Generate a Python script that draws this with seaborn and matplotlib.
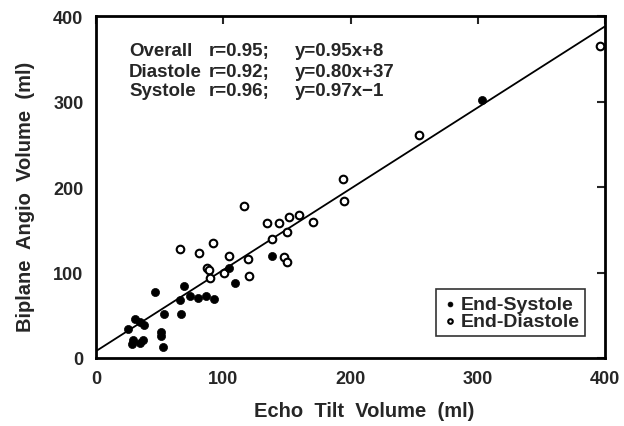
import numpy as np
import pandas as pd
import matplotlib
matplotlib.use("Agg")
import matplotlib.pyplot as plt
import seaborn as sns

# End-systole points (echo tilt, biplane angio), ml
sys_echo = [46.6, 69.5, 66.4, 73.9, 79.9, 86.7, 92.7, 104.8, 109.5, 138.3,
            53.2, 66.8, 24.9, 30.6, 34.6, 37.5, 28.1, 28.8, 34.6, 37.2,
            50.8, 51.3, 52.7, 303.1]
sys_angio = [77.5, 84.2, 68.2, 72.9, 70.2, 72.9, 69.4, 105.6, 87.7, 118.9,
             51.5, 51.5, 33.6, 45.6, 42.5, 38.6, 16.4, 21.4, 17.5, 21.4,
             30.8, 26.1, 12.5, 301.8]

# End-diastole points
dia_echo = [65.8, 80.9, 91.7, 116.3, 134.1, 144.0, 151.9, 159.8, 170.8, 138.3,
            150.1, 148.0, 150.1, 119.4, 120.5, 104.5, 100.4, 87.5, 88.5, 89.4,
            194.1, 194.9, 253.8, 396.0]
dia_angio = [127.5, 122.8, 134.9, 178.1, 157.5, 157.5, 165.3, 167.3, 158.7, 138.8,
             147.0, 118.1, 112.6, 116.1, 95.9, 119.3, 99.8, 105.5, 103.0, 93.2,
             209.4, 183.6, 260.8, 365.3]

# overall regression y = 0.95x + 8
slope = 0.95
intercept = 8
line_x = [0, 400]

stats_names = ["Overall", "Diastole", "Systole"]
stats_r = ["r=0.95;", "r=0.92;", "r=0.96;"]
stats_eq = ["y=0.95x+8", "y=0.80x+37", "y=0.97x\u22121"]

ticks = [0, 100, 200, 300, 400]

sns.set_style("white")
plt.rcParams['font.family'] = ['Liberation Sans', 'DejaVu Sans']
plt.rcParams['font.weight'] = 'bold'

fig = plt.figure(figsize=(6.24, 4.27), dpi=100)
ax = fig.add_axes([0.1538, 0.1593, 0.8158, 0.8007])

sys_df = pd.DataFrame({"echo": sys_echo, "angio": sys_angio})
dia_df = pd.DataFrame({"echo": dia_echo, "angio": dia_angio})

line_y = [slope * v + intercept for v in line_x]
ax.plot(line_x, line_y, color="black", lw=1.3, zorder=1)

sns.scatterplot(data=dia_df, x="echo", y="angio", ax=ax, marker="o", s=30,
                facecolor="white", edgecolor="black", linewidth=1.5,
                label="End-Diastole", zorder=3)
sns.scatterplot(data=sys_df, x="echo", y="angio", ax=ax, marker="o", s=34,
                color="black", edgecolor="black", linewidth=0.5,
                label="End-Systole", zorder=3)

ax.set_xlim(0, 400)
ax.set_ylim(0, 400)
ax.set_xticks(ticks)
ax.set_yticks(ticks)
ax.tick_params(direction="in", length=6, width=1.5, top=True, right=True,
               labelsize=13, pad=9)
for lab in ax.get_xticklabels() + ax.get_yticklabels():
    lab.set_fontweight("bold")
for sp in ax.spines.values():
    sp.set_linewidth(2.0)
    sp.set_color("black")

ax.set_xlabel("Echo  Tilt  Volume  (ml)", fontsize=14.5, fontweight="bold", va="center")
ax.set_ylabel("Biplane  Angio  Volume  (ml)", fontsize=14.5, fontweight="bold", va="center")
ax.xaxis.set_label_coords(0.527, -0.155)
ax.yaxis.set_label_coords(-0.139, 0.475)

rows_y = [0.898, 0.839, 0.781]
for i in range(3):
    ax.text(0.065, rows_y[i], stats_names[i], transform=ax.transAxes, fontsize=13.5,
            fontweight="bold", va="center")
    ax.text(0.222, rows_y[i], stats_r[i], transform=ax.transAxes, fontsize=13.5,
            fontweight="bold", va="center")
    ax.text(0.391, rows_y[i], stats_eq[i], transform=ax.transAxes, fontsize=13.5,
            fontweight="bold", va="center")

handles, labels = ax.get_legend_handles_labels()
order = [labels.index("End-Systole"), labels.index("End-Diastole")]
leg = ax.legend([handles[k] for k in order], [labels[k] for k in order],
                loc="lower right", bbox_to_anchor=(0.961, 0.064),
                frameon=True, fancybox=False, edgecolor="black",
                fontsize=14, handletextpad=0.15, handlelength=0.8,
                borderpad=0.3, labelspacing=0.0, markerscale=0.6,
                borderaxespad=0)
leg.get_frame().set_linewidth(1.2)
for t in leg.get_texts():
    t.set_fontweight("bold")

fig.savefig("out.png", dpi=100)
